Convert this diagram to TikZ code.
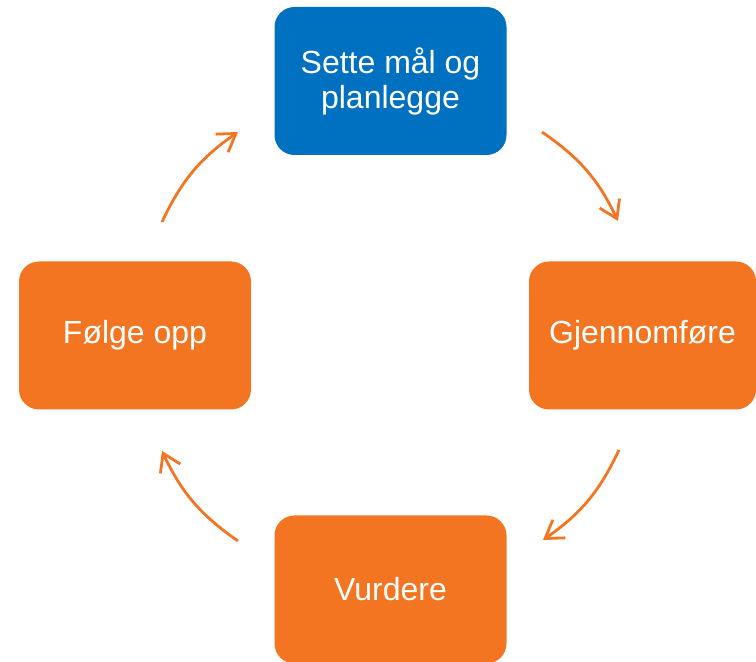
\documentclass[tikz,border=0pt]{standalone}
\usepackage{fontspec}
\setmainfont{Liberation Sans}
\usetikzlibrary{arrows.meta}
\definecolor{planblue}{HTML}{0070C0}
\definecolor{steporange}{HTML}{F47521}

\begin{document}
\begin{tikzpicture}[x = 1pt, y = 1pt,
		phase/.style = {rounded corners = 20pt, minimum width = 232pt, minimum height = 148pt, text = white, align = center, font = \fontsize{32}{35}\selectfont, inner sep = 0pt},
		cycle/.style = {steporange, line width = 2.8pt, -{Straight Barb[length = 17pt, width = 22pt]}, bend left = 15}]
			\useasboundingbox (0, 0) rectangle (756, 662);
			\node[phase, fill = planblue] (plan) at (390.5, 581) {Sette mål og\\planlegge};
			\node[phase, fill = steporange, minimum width = 227pt] (do) at (642.5, 326.5) {Gjennomføre};
			\node[phase, fill = steporange] (check) at (390.5, 72.5) {Vurdere};
			\node[phase, fill = steporange] (act) at (135, 326.5) {Følge opp};
			\coordinate (planOut) at (542, 530);
			\coordinate (doIn) at (618, 441);
			\coordinate (doOut) at (619, 212);
			\coordinate (checkIn) at (543, 122);
			\coordinate (checkOut) at (238, 121);
			\coordinate (actIn) at (162, 211);
			\coordinate (actOut) at (162, 440);
			\coordinate (planIn) at (238, 530);
			\draw[cycle] (planOut) to (doIn);
			\draw[cycle] (doOut) to (checkIn);
			\draw[cycle] (checkOut) to (actIn);
			\draw[cycle] (actOut) to (planIn);
		\end{tikzpicture}
\end{document}
